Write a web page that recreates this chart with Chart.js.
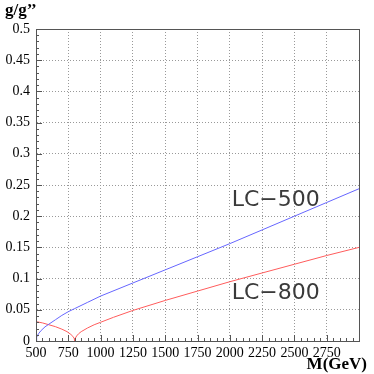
<!DOCTYPE html>
<html>
<head>
<meta charset="utf-8">
<script src="https://cdn.jsdelivr.net/npm/chart.js@4"></script>
<style>
  html, body { margin: 0; padding: 0; background: #fff; }
  #wrap { width: 374px; height: 374px; position: relative; }
</style>
</head>
<body>
<div id="wrap"><canvas id="chart" width="374" height="374"></canvas></div>
<script>
// coupling limit g/g'' vs resonance mass, two collider options
const massLC500 = [500, 505, 510, 520, 540, 570, 600, 650, 700, 750, 800, 900, 1000, 1250, 1500, 1750, 2000, 2250, 2500, 2750, 3000];
const gLC500    = [0, 0.0059, 0.0083, 0.0118, 0.0169, 0.0227, 0.027, 0.034, 0.041, 0.047, 0.052, 0.062, 0.072, 0.093, 0.114, 0.135, 0.156, 0.178, 0.200, 0.222, 0.244];

const massLC800 = [500, 550, 600, 650, 700, 740, 770, 785, 795, 800, 805, 815, 830, 850, 900, 950, 1000, 1100, 1250, 1500, 1750, 2000, 2250, 2500, 2750, 3000];
const gLC800    = [0.031, 0.029, 0.026, 0.023, 0.019, 0.015, 0.0105, 0.0075, 0.0044, 0, 0.0047, 0.0082, 0.0117, 0.015, 0.021, 0.026, 0.030, 0.038, 0.049, 0.065, 0.080, 0.095, 0.109, 0.123, 0.137, 0.150];

// axis ticks
const xTickValues = [500, 750, 1000, 1250, 1500, 1750, 2000, 2250, 2500, 2750];
const xTickLabels = ["500", "750", "1000", "1250", "1500", "1750", "2000", "2250", "2500", "2750"];
const yTickValues = [0, 0.05, 0.1, 0.15, 0.2, 0.25, 0.3, 0.35, 0.4, 0.45, 0.5];
const yTickLabels = ["0", "0.05", "0.1", "0.15", "0.2", "0.25", "0.3", "0.35", "0.4", "0.45", "0.5"];

const toXY = (xs, ys) => xs.map((x, i) => ({ x, y: ys[i] }));
const serif = "'Liberation Serif', 'Times New Roman', serif";

// frame, inward minor ticks and curve labels (ROOT look)
const rootFrame = {
  id: "rootFrame",
  afterDraw(chart) {
    const { ctx, chartArea: a, scales: { x, y } } = chart;
    ctx.save();
    ctx.strokeStyle = "#555";
    ctx.lineWidth = 1;
    ctx.strokeRect(Math.round(a.left) + 0.5, Math.round(a.top) + 0.5,
                   Math.round(a.right - a.left), Math.round(a.bottom - a.top));

    ctx.beginPath();
    // y ticks every 0.01, major every 0.05
    for (let i = 0; i <= 50; i++) {
      const py = Math.round(y.getPixelForValue(i / 100)) + 0.5;
      const len = i % 5 === 0 ? 6 : 3;
      ctx.moveTo(a.left, py);
      ctx.lineTo(a.left + len, py);
    }
    // x ticks every 50, major every 250
    for (let m = 500; m <= 3000; m += 50) {
      const px = Math.round(x.getPixelForValue(m)) + 0.5;
      const len = m % 250 === 0 ? 6 : 3;
      ctx.moveTo(px, a.bottom);
      ctx.lineTo(px, a.bottom - len);
    }
    ctx.stroke();

    // axis titles
    ctx.fillStyle = "#000";
    ctx.font = "bold 17px " + serif;
    ctx.textAlign = "left";
    ctx.textBaseline = "alphabetic";
    ctx.fillText("g/g\u2019\u2019", 5, 15);
    ctx.textAlign = "right";
    ctx.fillText("M(GeV)", 367, 369);

    // curve labels
    ctx.fillStyle = "#3a3a3a";
    ctx.font = "22px 'DejaVu Sans', 'Liberation Sans', sans-serif";
    ctx.textAlign = "left";
    ctx.fillText("LC\u2212500", x.getPixelForValue(2015), y.getPixelForValue(0.217));
    ctx.fillText("LC\u2212800", x.getPixelForValue(2015), y.getPixelForValue(0.0675));
    ctx.restore();
  }
};

const gridStyle = {
  color: "#999",
  lineWidth: 1,
  drawTicks: false
};

new Chart(document.getElementById("chart").getContext("2d"), {
  type: "line",
  data: {
    datasets: [
      {
        label: "LC-500",
        data: toXY(massLC500, gLC500),
        borderColor: "#6666ff",
        borderWidth: 1,
        pointRadius: 0,
        tension: 0
      },
      {
        label: "LC-800",
        data: toXY(massLC800, gLC800),
        borderColor: "#ff5c5c",
        borderWidth: 1,
        pointRadius: 0,
        tension: 0
      }
    ]
  },
  options: {
    responsive: false,
    animation: false,
    events: [],
    layout: { padding: { left: 0, right: 15, top: 29, bottom: 0 } },
    plugins: { legend: { display: false }, tooltip: { enabled: false } },
    scales: {
      x: {
        type: "linear",
        min: 500,
        max: 3000,
        afterBuildTicks: (s) => { s.ticks = xTickValues.map(v => ({ value: v })); },
        afterFit: (s) => { s.height = 33; },
        border: { display: true, color: "#555", dash: [1, 2] },
        grid: gridStyle,
        ticks: {
          color: "#000",
          font: { family: serif, size: 14 },
          padding: 4,
          maxRotation: 0,
          autoSkip: false,
          callback: (v, i) => xTickLabels[i]
        }
      },
      y: {
        type: "linear",
        min: 0,
        max: 0.5,
        afterBuildTicks: (s) => { s.ticks = yTickValues.map(v => ({ value: v })); },
        afterFit: (s) => { s.width = 36; },
        border: { display: true, color: "#555", dash: [1, 2] },
        grid: gridStyle,
        ticks: {
          color: "#000",
          font: { family: serif, size: 14 },
          padding: 6,
          autoSkip: false,
          callback: (v, i) => yTickLabels[i]
        }
      }
    }
  },
  plugins: [rootFrame]
});
</script>
</body>
</html>
